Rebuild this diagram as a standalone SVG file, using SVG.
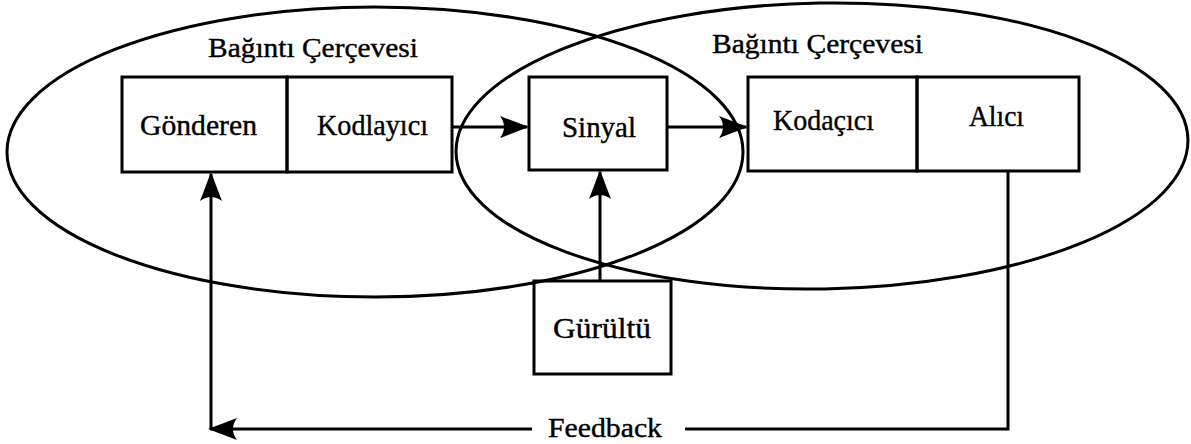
<svg xmlns="http://www.w3.org/2000/svg" width="1191" height="444" viewBox="0 0 1191 444">
<style>
.frame{fill:none;stroke:#000;stroke-width:3}
.box{fill:none;stroke:#000;stroke-width:3}
.line{fill:none;stroke:#000;stroke-width:3}
text{font-family:"Liberation Serif","Times New Roman",serif;fill:#000;stroke:#000;stroke-width:0.4}
.lbl{font-size:30px}
.flbl{font-size:27px}
</style>
<defs>
<marker id="arr" markerUnits="userSpaceOnUse" markerWidth="34" markerHeight="24" refX="28" refY="11" orient="auto">
<path d="M30,11 Q14,5 1,0 Q9,11 1,22 Q14,17 30,11 Z" fill="#000"/>
</marker>
</defs>
<rect width="1191" height="444" fill="#fff"/>
<g id="frame-left">
<ellipse class="frame" cx="375" cy="152" rx="368" ry="145"/>
<text class="flbl" x="208" y="57" textLength="210" lengthAdjust="spacingAndGlyphs">Bağıntı Çerçevesi</text>
</g>
<g id="frame-right">
<ellipse class="frame" cx="822" cy="146" rx="366" ry="143" transform="rotate(-1 822 146)"/>
<text class="flbl" x="712" y="53" textLength="211" lengthAdjust="spacingAndGlyphs">Bağıntı Çerçevesi</text>
</g>
<g id="gonderen">
<rect class="box" x="122" y="77" width="165" height="95"/>
<text class="lbl" x="140" y="135" textLength="117" lengthAdjust="spacingAndGlyphs">Gönderen</text>
</g>
<g id="kodlayici">
<rect class="box" x="287" y="77" width="165" height="95"/>
<text class="lbl" x="317" y="135" textLength="111" lengthAdjust="spacingAndGlyphs">Kodlayıcı</text>
</g>
<g id="sinyal">
<rect class="box" x="529" y="77" width="138" height="93"/>
<text class="lbl" x="562" y="137" textLength="74" lengthAdjust="spacingAndGlyphs">Sinyal</text>
</g>
<g id="kodacici">
<rect class="box" x="748" y="77" width="169" height="94"/>
<text class="lbl" x="773" y="130" textLength="101" lengthAdjust="spacingAndGlyphs">Kodaçıcı</text>
</g>
<g id="alici">
<rect class="box" x="917" y="77" width="162" height="94"/>
<text class="lbl" x="969" y="126" textLength="55" lengthAdjust="spacingAndGlyphs">Alıcı</text>
</g>
<g id="gurultu">
<rect class="box" x="534" y="281" width="137" height="93"/>
<text class="lbl" x="553" y="338" textLength="98" lengthAdjust="spacingAndGlyphs">Gürültü</text>
</g>
<g id="connectors">
<path class="line" d="M452,127 H527" marker-end="url(#arr)"/>
<path class="line" d="M667,127 H746" marker-end="url(#arr)"/>
<path class="line" d="M600,281 V172" marker-end="url(#arr)"/>
<path class="line" d="M1008,171 V429 H685"/>
<path class="line" d="M532,429 H210" marker-end="url(#arr)"/>
<path class="line" d="M211,429 V174" marker-end="url(#arr)"/>
<text x="548" y="437" font-size="28" textLength="114" lengthAdjust="spacingAndGlyphs">Feedback</text>
</g>
</svg>
